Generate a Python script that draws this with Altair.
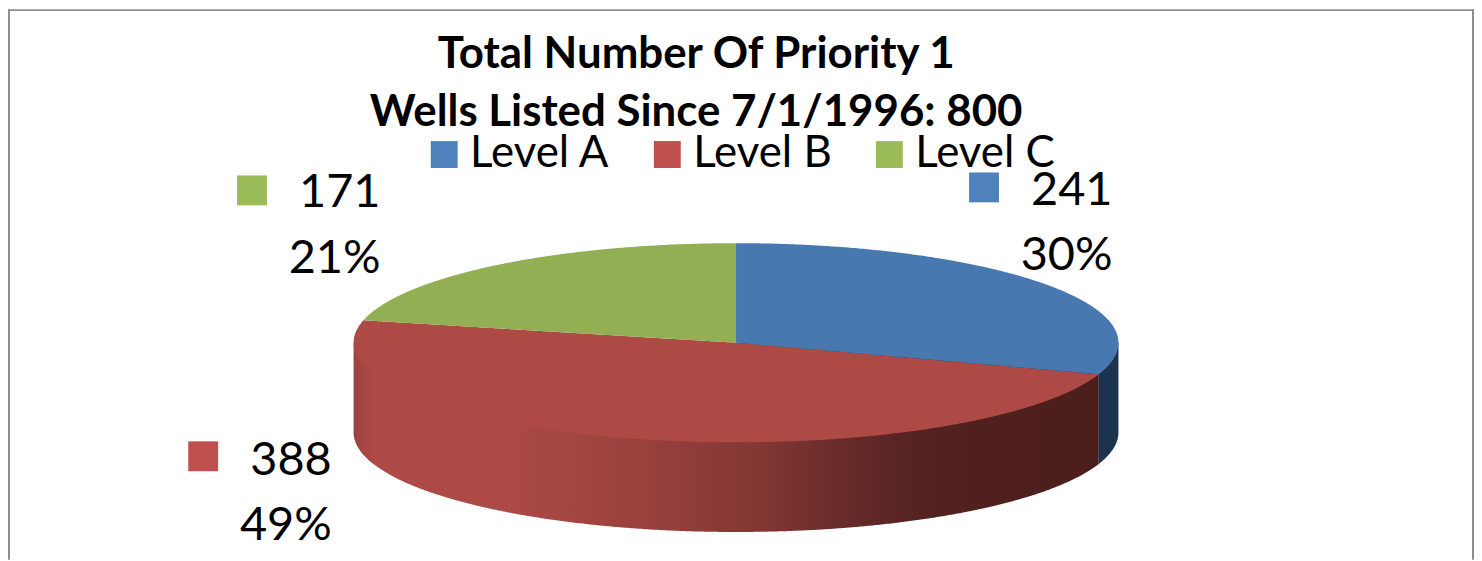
import altair as alt
import numpy as np
import pandas as pd

levels = ["Level A", "Level B", "Level C"]
counts = [241, 388, 171]
key_colors = ["#4f81bd", "#c0504d", "#9bbb59"]
top_colors = ["#4878b0", "#ad4a46", "#93af54"]
title_lines = ["Total Number Of Priority 1", "Wells Listed Since 7/1/1996: 800"]

W, H = 1472, 553
CX, CY, RX, RY, DEPTH = 731, 335, 384, 100, 90
xs = alt.Scale(domain=[-CX / RX, (W - CX) / RX], nice=False, zero=False)
ys = alt.Scale(domain=[(H - CY) / RY, -CY / RY], nice=False, zero=False)

total = sum(counts)
a_b = 2 * np.pi * counts[0] / total
a_g = 2 * np.pi * (counts[0] + counts[1]) / total
xb, yb = np.sin(a_b), -np.cos(a_b)
xg, yg = np.sin(a_g), -np.cos(a_g)


def grid(lo, hi, n=260):
    t = np.linspace(np.arcsin(lo), np.arcsin(hi), n)
    return np.sin(t)


def edge(x):
    return np.sqrt(np.clip(1 - x * x, 0, 1))


gx = grid(0, 1)
blue = pd.DataFrame({"x": gx, "top": -edge(gx),
                     "bot": np.where(gx <= xb, yb / xb * gx, edge(gx))})
gx = grid(xg, 0)
green = pd.DataFrame({"x": gx, "top": -edge(gx), "bot": yg / xg * gx})
gx = grid(-1, xb, 520)
red_top = np.where(gx < xg, -edge(gx), np.where(gx < 0, yg / xg * gx, yb / xb * gx))
red = pd.DataFrame({"x": gx, "top": red_top, "bot": edge(gx)})

d = DEPTH / RY
gx = grid(-1, xb, 520)
wall_red = pd.DataFrame({"x": gx, "top": 0 * gx, "bot": edge(gx) + d})
gx = grid(xb, 1, 60)
wall_blue = pd.DataFrame({"x": gx, "top": 0 * gx, "bot": edge(gx) + d})


def area(df, paint):
    return alt.Chart(df).mark_area(color=paint, interpolate="linear").encode(
        x=alt.X("x:Q", scale=xs, axis=None),
        y=alt.Y("top:Q", scale=ys, axis=None),
        y2="bot:Q",
    )


stops = [(0.0, "#9c4340"), (0.03, "#ad4a46"), (0.19, "#ad4a46"), (0.33, "#a04440"),
         (0.53, "#853834"), (0.74, "#562422"), (0.86, "#4e1f1d"), (1.0, "#4c1e1c")]
red_gradient = alt.Gradient(
    gradient="linear", x1=0, x2=1, y1=0, y2=0,
    stops=[alt.GradientStop(offset=o, color=c) for o, c in stops],
)

# Label anchors: picture position of each key and text block.
key_px = [988, 204, 253]
key_py = [187, 457, 190]
text_right = [1117, 333, 382]
count_base = [205, 476, 207]
share_base = [270, 541, 273]

labels = pd.DataFrame({
    "level": levels,
    "count": [str(c) for c in counts],
    "share": [f"{int(100 * c / total + 0.5)}%" for c in counts],
    "kx": [(p - 8 - CX) / RX for p in key_px],
    "ky": [(p - 8 - CY) / RY for p in key_py],
    "tx": [(p - 8 - CX) / RX for p in text_right],
    "cy": [(p - 8 - CY) / RY for p in count_base],
    "sy": [(p - 8 - CY) / RY for p in share_base],
})

keys = alt.Chart(labels).mark_square(size=900, opacity=1, filled=True, strokeWidth=0).encode(
    x=alt.X("kx:Q", scale=xs, axis=None),
    y=alt.Y("ky:Q", scale=ys, axis=None),
    color=alt.Color(
        "level:N",
        scale=alt.Scale(domain=levels, range=key_colors),
        legend=alt.Legend(
            title=None, orient="none", legendX=416, legendY=124, direction="horizontal",
            columns=3, symbolType="square", symbolSize=729, symbolStrokeWidth=0,
            labelFont="Lato", labelFontSize=44, labelColor="#000000", labelOffset=4,
            columnPadding=35, labelLimit=300,
        ),
    ),
)

text_style = dict(font="Lato", fontSize=47, color="#000000", align="right", baseline="alphabetic")
count_text = alt.Chart(labels).mark_text(**text_style).encode(
    x=alt.X("tx:Q", scale=xs, axis=None), y=alt.Y("cy:Q", scale=ys, axis=None), text="count:N")
share_text = alt.Chart(labels).mark_text(**text_style).encode(
    x=alt.X("tx:Q", scale=xs, axis=None), y=alt.Y("sy:Q", scale=ys, axis=None), text="share:N")

frame_color = "#8f8f8f"
frame = [
    alt.Chart(pd.DataFrame({"a": [0]})).mark_rule(color=frame_color, strokeWidth=2).encode(
        x=alt.value(0), x2=alt.value(W), y=alt.value(1)),
    alt.Chart(pd.DataFrame({"a": [0]})).mark_rule(color=frame_color, strokeWidth=2).encode(
        x=alt.value(1), y=alt.value(0), y2=alt.value(H)),
    alt.Chart(pd.DataFrame({"a": [0]})).mark_rule(color=frame_color, strokeWidth=2).encode(
        x=alt.value(W - 1), y=alt.value(0), y2=alt.value(H)),
]

chart = alt.layer(
    *frame,
    area(wall_red, red_gradient),
    area(wall_blue, "#1c3350"),
    area(red, top_colors[1]),
    area(green, top_colors[2]),
    area(blue, top_colors[0]),
    keys,
    count_text,
    share_text,
).properties(
    width=W,
    height=H,
    padding=0,
    autosize=alt.AutoSizeParams(type="none"),
    title=alt.TitleParams(
        text=title_lines, font="Lato", fontSize=44, fontWeight="bold", color="#000000",
        lineHeight=58, anchor="middle", frame="group", dx=-45, offset=-127,
    ),
).configure_view(stroke=None).configure_legend(symbolOpacity=1)

chart.save("out.html", embed_options={"renderer": "svg", "actions": False})
